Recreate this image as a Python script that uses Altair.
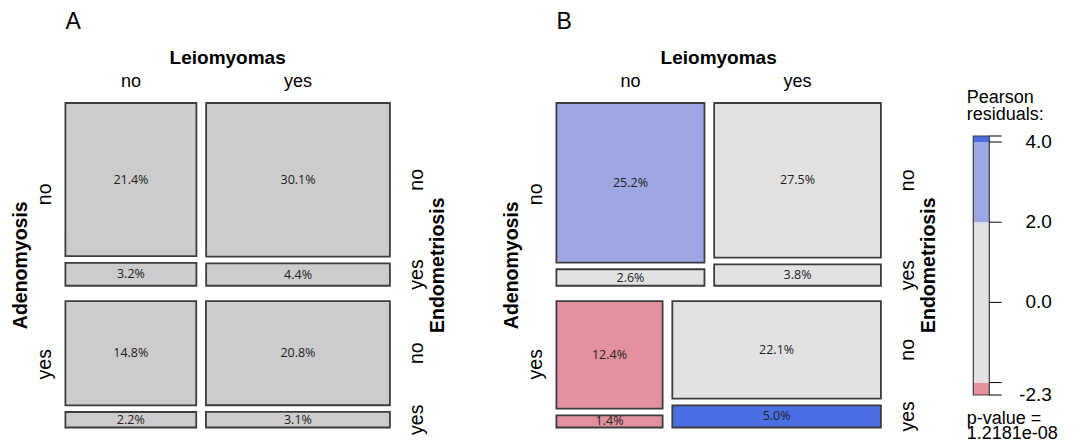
import altair as alt
import pandas as pd

# ---------------- data ----------------
adeno_levels = ["no", "yes"]          # rows (first split)
leio_levels = ["no", "yes"]           # columns (second split)
endo_levels = ["no", "yes"]           # third split
# order: (adeno, leio, endo) = nnn, nny, nyn, nyy, ynn, yny, yyn, yyy
pct_A = [21.4, 3.2, 30.1, 4.4, 14.8, 2.2, 20.8, 3.1]
pct_B = [25.2, 2.6, 27.5, 3.8, 12.4, 1.4, 22.1, 5.0]
resid_B = [3.1, -1.3, -1.8, -1.1, -2.31, -2.1, 1.1, 4.15]
panel_letters = ["A", "B"]
var_names = ["Adenomyosis", "Leiomyomas", "Endometriosis"]
legend_title = ["Pearson", "residuals:"]
pvalue_text = ["p-value =", "1.2181e-08"]
shade_breaks = [-4, -2, 2, 4]
shade_colors = ["#D33F6A", "#E3919F", "#E2E2E2", "#9DA7E3", "#4A6FE3"]
legend_tick_values = [-2, 0, 2, 4]
legend_label_values = [4, 2, 0]

# ---------------- layout constants (pixels) ----------------
W, H = 1059, 432
S = 324.5                 # mosaic panel size
G1, G2, G3 = 15.3, 9.7, 6.7
ORIGINS = [(57.4, 95.0), (548.4, 95.0)]
FONT = "Liberation Sans"
BORDER = "#3d3d3d"


def mosaic(pcts):
    tiles = []
    H_avail = S - G1
    y = 0.0
    for a in range(2):
        row_tot = sum(pcts[a * 4:a * 4 + 4])
        rh = H_avail * row_tot / 100.0
        x = 0.0
        for l in range(2):
            ctot = pcts[a * 4 + l * 2] + pcts[a * 4 + l * 2 + 1]
            cw = (S - G2) * ctot / row_tot
            yy = y
            for e in range(2):
                idx = a * 4 + l * 2 + e
                eh = (rh - G3) * pcts[idx] / ctot
                tiles.append(dict(a=a, l=l, e=e, idx=idx, x0=x, x1=x + cw,
                                  y0=yy, y1=yy + eh, pct=pcts[idx]))
                yy += eh + G3
            x += cw + G2
        y += rh + G1
    return tiles


def X(f):
    return alt.X(f"{f}:Q", scale=alt.Scale(domain=[0, W], nice=False, zero=False), axis=None)


def Y(f):
    return alt.Y(f"{f}:Q", scale=alt.Scale(domain=[0, H], reverse=True, nice=False, zero=False), axis=None)


rmin, rmax = min(resid_B), max(resid_B)
LEG_TOP, LEG_BOT = 128.0, 387.0
k = (LEG_BOT - LEG_TOP) / (rmax - rmin)
leg_dom = [rmin - (H - LEG_BOT) / k, rmax + LEG_TOP / k]


def YL(f):
    return alt.Y(f"{f}:Q", scale=alt.Scale(domain=leg_dom, nice=False, zero=False), axis=None)


color_scale = alt.Scale(type="threshold", domain=shade_breaks, range=shade_colors)

layers = []
lab_rows = {"letter": [], "title": [], "top": [], "side": [], "vtitle": []}
pct_rows = []

for p, (pcts, (ox, oy)) in enumerate(zip([pct_A, pct_B], ORIGINS)):
    tiles = mosaic(pcts)
    df = pd.DataFrame(tiles)
    df["x0"] += ox
    df["x1"] += ox
    df["y0"] += oy
    df["y1"] += oy
    df["cx"] = (df.x0 + df.x1) / 2
    df["cy"] = (df.y0 + df.y1) / 2
    df["label"] = [f"{v:.1f}%" for v in df.pct]
    if p == 0:
        layers.append(alt.Chart(df).mark_rect(fill="#CCCCCC", stroke=BORDER, strokeWidth=1.8)
                      .encode(x=X("x0"), x2="x1", y=Y("y0"), y2="y1"))
    else:
        df["resid"] = [resid_B[i] for i in df.idx]
        layers.append(alt.Chart(df).mark_rect(stroke=BORDER, strokeWidth=1.8)
                      .encode(x=X("x0"), x2="x1", y=Y("y0"), y2="y1",
                              fill=alt.Fill("resid:Q", scale=color_scale, legend=None)))
    pct_rows.append(df[["cx", "cy", "label"]])

    # labels
    lab_rows["letter"].append(dict(x=ox, y=21.3, t=panel_letters[p]))
    lab_rows["title"].append(dict(x=ox + S / 2, y=56.0, t=var_names[1]))
    top = df[(df.a == 0) & (df.e == 0)]
    for _, r in top.iterrows():
        lab_rows["top"].append(dict(x=r.cx, y=79.3, t=leio_levels[int(r.l)]))
    for a in range(2):
        rows = df[df.a == a]
        cy = (rows.y0.min() + rows.y1.max()) / 2
        lab_rows["side"].append(dict(x=ox - 14.5, y=cy, t=adeno_levels[a]))
        last = rows[rows.l == 1]
        for _, r in last.iterrows():
            lab_rows["side"].append(dict(x=ox + S + 33, y=r.cy, t=endo_levels[int(r.e)]))
    lab_rows["vtitle"].append(dict(x=ox - 38, y=oy + S / 2, t=var_names[0]))
    lab_rows["vtitle"].append(dict(x=ox + S + 54, y=oy + S / 2, t=var_names[2]))


def text_layer(rows, size, weight="normal", angle=0, align="center", baseline="alphabetic",
               font=FONT, color="black", yfun=Y):
    d = pd.DataFrame(rows)
    return alt.Chart(d).mark_text(fontSize=size, fontWeight=weight, angle=angle, align=align,
                                  baseline=baseline, font=font, color=color).encode(
        x=X("x"), y=yfun("y"), text="t:N")


pct_df = pd.concat(pct_rows).rename(columns={"cx": "x", "cy": "y", "label": "t"})
layers.append(text_layer(pct_df.to_dict("records"), 12.5, baseline="middle",
                         font="Open Sans", color="#222222"))
layers.append(text_layer(lab_rows["letter"], 23, align="left"))
layers.append(text_layer(lab_rows["title"], 19, weight="bold"))
layers.append(text_layer(lab_rows["top"], 18))
layers.append(text_layer(lab_rows["side"], 19.5, angle=270))
layers.append(text_layer(lab_rows["vtitle"], 19.5, weight="bold", angle=270))

# ---------------- legend ----------------
BAR_X0, BAR_X1, TICK_X1 = 965.3, 981.3, 993.7
seg_edges = [rmin] + [b for b in shade_breaks if rmin < b < rmax] + [rmax]
seg = pd.DataFrame({
    "lo": seg_edges[:-1], "hi": seg_edges[1:],
})
seg["mid"] = (seg.lo + seg.hi) / 2
seg["xa"] = BAR_X0
seg["xb"] = BAR_X1
layers.append(alt.Chart(seg).mark_rect().encode(
    x=X("xa"), x2="xb", y=YL("lo"), y2="hi",
    fill=alt.Fill("mid:Q", scale=color_scale, legend=None)))
frame = pd.DataFrame({"lo": [rmin], "hi": [rmax], "xa": [BAR_X0], "xb": [BAR_X1]})
layers.append(alt.Chart(frame).mark_rect(fill=None, stroke=BORDER, strokeWidth=1.2).encode(
    x=X("xa"), x2="xb", y=YL("lo"), y2="hi"))
ticks = pd.DataFrame({"v": [rmin] + legend_tick_values + [rmax]})
ticks["xa"] = BAR_X1
ticks["xb"] = TICK_X1
layers.append(alt.Chart(ticks).mark_rule(color="black", strokeWidth=1).encode(
    x=X("xa"), x2="xb", y=YL("v")))
tl = pd.DataFrame({"y": legend_label_values + [rmin]})
tl["t"] = [f"{v:.1f}" for v in tl.y]
tl["x"] = 1043.8
layers.append(text_layer(tl.to_dict("records"), 19, align="right", baseline="middle", yfun=YL))
legend_texts = [dict(x=958.7, y=94.7, t=legend_title[0]), dict(x=958.7, y=112.0, t=legend_title[1]),
                dict(x=958.7, y=416.0, t=pvalue_text[0]), dict(x=958.7, y=430.5, t=pvalue_text[1])]
layers.append(text_layer(legend_texts, 18, align="left"))

chart = alt.layer(*layers).resolve_scale(y="independent").properties(
    width=W, height=H, padding=0, autosize=alt.AutoSizeParams(type="none")
).configure_view(stroke=None)

chart.save("out.html", embed_options={"renderer": "svg", "actions": False})
